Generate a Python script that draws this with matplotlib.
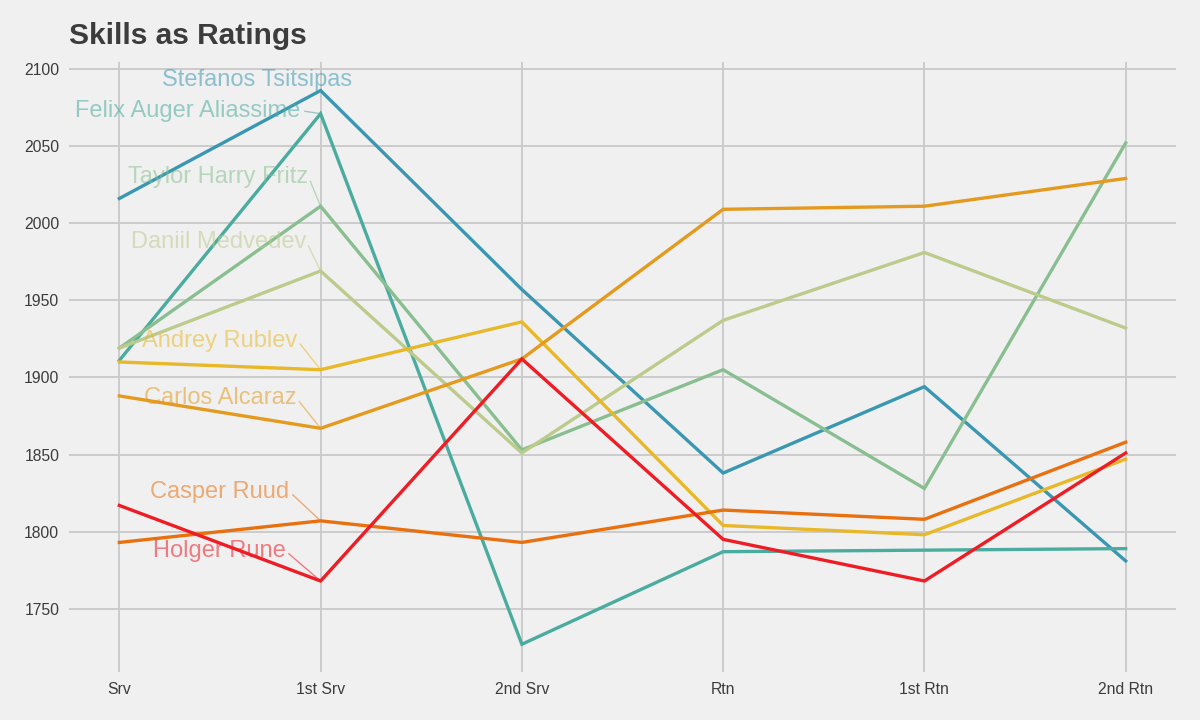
import matplotlib
matplotlib.use("Agg")
import matplotlib.pyplot as plt

plt.rcParams['font.family'] = ['Liberation Sans', 'DejaVu Sans']

categories = ["Srv", "1st Srv", "2nd Srv", "Rtn", "1st Rtn", "2nd Rtn"]

players = ["Stefanos Tsitsipas", "Felix Auger Aliassime", "Taylor Harry Fritz",
           "Daniil Medvedev", "Andrey Rublev", "Carlos Alcaraz",
           "Casper Ruud", "Holger Rune"]

tsitsipas = [2016, 2086, 1957, 1838, 1894, 1781]
auger_aliassime = [1911, 2071, 1727, 1787, 1788, 1789]
fritz = [1919, 2011, 1853, 1905, 1828, 2052]
medvedev = [1919, 1969, 1851, 1937, 1981, 1932]
rublev = [1910, 1905, 1936, 1804, 1798, 1847]
alcaraz = [1888, 1867, 1912, 2009, 2011, 2029]
ruud = [1793, 1807, 1793, 1814, 1808, 1858]
rune = [1817, 1768, 1912, 1795, 1768, 1851]

series = [tsitsipas, auger_aliassime, fritz, medvedev, rublev, alcaraz, ruud, rune]

yticks = [1750, 1800, 1850, 1900, 1950, 2000, 2050, 2100]

# styles
colors = ["#3a97b1", "#4aac9e", "#89bf90", "#bccb8c", "#e8b829", "#e39a1e", "#e8700f", "#ee1c24"]
# label offsets from the "1st Srv" point, in pixels (dx, dy)
label_offsets = [(32, 11), (-20, 3), (-12, 29), (-14, 29), (-23, 29), (-24, 30), (-31, 29), (-35, 30)]
draw_leader = [False, True, True, True, True, True, True, True]

bg = "#f0f0f0"
fig = plt.figure(figsize=(12, 7.2), dpi=100, facecolor=bg)
ax = fig.add_axes([69/1200, 1 - 672/720, (1176 - 69)/1200, (672 - 62)/720])
ax.set_facecolor(bg)

x = list(range(len(categories)))
for vals, col in zip(series, colors):
    ax.plot(x, vals, color=col, lw=2.4, zorder=3, solid_joinstyle='miter')

for name, vals, col, off, lead in zip(players, series, colors, label_offsets, draw_leader):
    ap = None
    if lead:
        ap = dict(arrowstyle='-', color=col, alpha=0.55, lw=1.0, patchA=None,
                  shrinkA=3, shrinkB=0, relpos=(1.0, 0.5))
    ax.annotate(name, xy=(1, vals[1]), xytext=off, textcoords='offset pixels',
                ha='right', va='center', fontsize=17, color=col, alpha=0.55,
                arrowprops=ap, zorder=4)

ax.set_xlim(-0.25, 5.25)
ax.set_ylim(1709, 2104.5)
ax.set_xticks(x)
ax.set_xticklabels(categories)
ax.set_yticks(yticks)
ax.set_yticklabels([str(v) for v in yticks])
ax.tick_params(length=0, labelsize=11.3, labelcolor="#3c3c3c")
ax.tick_params(axis='y', pad=7)
ax.tick_params(axis='x', pad=7)
ax.grid(True, color="#cbcbcb", lw=1.4, zorder=0)
ax.set_axisbelow(True)
for s in ax.spines.values():
    s.set_visible(False)

fig.text(69/1200, 1 - 36/720, "Skills as Ratings", fontsize=21.5, fontweight='bold',
         color="#3c3c3c", ha='left', va='center')

fig.savefig("out.png", dpi=100, facecolor=bg)
